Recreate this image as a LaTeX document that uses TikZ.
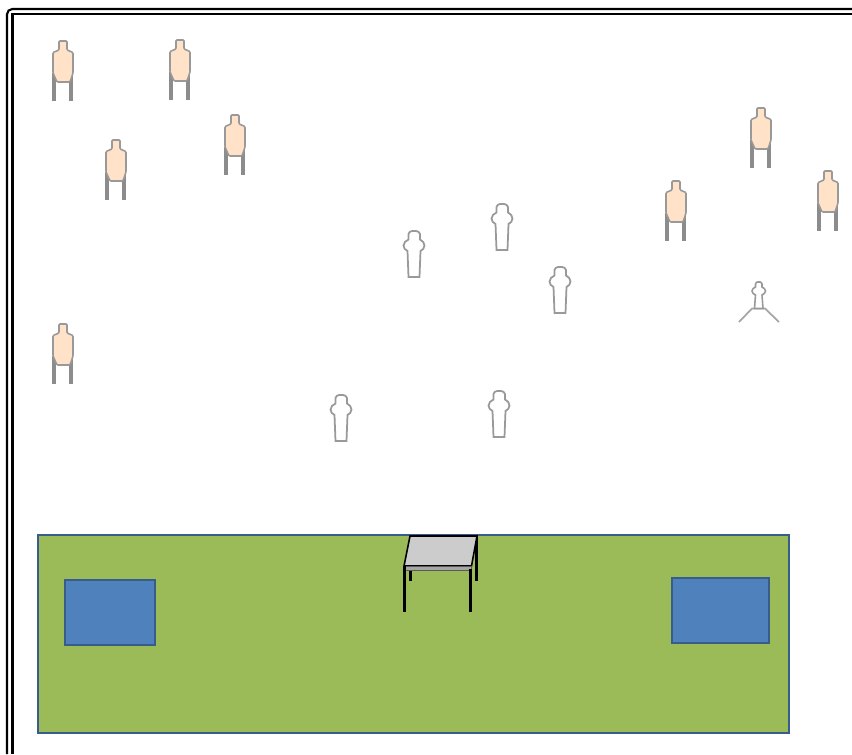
\documentclass[tikz,border=0pt]{standalone}
\definecolor{peau}{HTML}{FFE2C8}
\definecolor{herbe}{HTML}{9BBB59}
\definecolor{bleu}{HTML}{4F81BD}
\definecolor{bord}{HTML}{385D8A}
\tikzset{
	cadre/.style={black,line width=1.2pt},
	zone/.style={draw=bord,line width=1.4pt},
	pied/.style={black,line width=1.2pt},
	pics/cible/.style={code={
		\draw[gray!90,line width=1.8pt] (-9,32) to (-9,60);
		\draw[gray!90,line width=1.8pt] (8,32) to (8,60);
		\draw[gray!80,fill=peau,line width=.9pt,rounded corners=.6pt] (-4,0) -- (4,0) -- (4,9) -- (10,11.5) -- (10,32) -- (7,41) -- (-6,41) -- (-10,32) -- (-10,11.5) -- (-4,9) -- cycle;
	}},
	pics/silhouette/.style={code={
		\draw[gray!80,fill=white,line width=1pt] (-5.5,3) to[out=70,in=180] (-2,0) -- (2,0) to[out=0,in=110] (6,3) -- (6,8.5) to[out=-30,in=90] (10.5,14.5) to[out=-90,in=30] (6.5,20) -- (5.5,46) -- (-5.5,46) -- (-6.5,20) to[out=150,in=-90] (-10.5,14.5) to[out=90,in=210] (-5.5,8.5) -- cycle;
	}}
}
\begin{document}
\begin{tikzpicture}[x=.02cm,y=-.02cm]
	\useasboundingbox (0,0) rectangle (852,754);
	\draw[cadre,rounded corners=3pt] (7,754) to (7,9) to (852,9);
	\draw[cadre] (12.5,754) to (12.5,14) to (852,14);
	\foreach \x/\y in {63/41,180/40,116/140,235/115,63/324,761/108,828/171,676/181}{
		\pic at (\x,\y) {cible};}
	\foreach \x/\y in {414/231,502/204,560/267,341/395,499/391}{
		\pic at (\x,\y) {silhouette};}
	% petite cible sur pied
	\draw[gray!70,line width=1pt] (739,322) to (752,308.5) to (765,308.5) to (779,322);
	\draw[gray!80,fill=white,line width=.9pt] (755.5,284) to[out=70,in=180] (757.5,282) -- (760,282) to[out=0,in=110] (762,284) -- (762,287) to[out=-30,in=90] (765.5,291) to[out=-90,in=30] (762,295) -- (763,308.5) -- (754.5,308.5) -- (755.5,295) to[out=150,in=-90] (752,291) to[out=90,in=210] (755.5,287) -- cycle;
	% terrain
	\draw[zone,fill=herbe] (38,535) rectangle (789,733);
	\draw[zone,fill=bleu] (65,580) rectangle (155,645);
	\draw[zone,fill=bleu] (672,578) rectangle (769,643);
	% table
	\draw[pied] (410.5,568) to (410.5,581);
	\draw[pied] (476.5,536) to (476.5,581);
	\draw[black,fill=gray!40,line width=.9pt] (410,536) to (477,536) to (471.5,566) to (404,566) to cycle;
	\draw[gray!70!black,fill=gray!70,line width=.5pt] (404,566.5) rectangle (471.5,570);
	\draw[pied] (404.5,566) to (404.5,612);
	\draw[pied] (470.5,569) to (470.5,612);
\end{tikzpicture}
\end{document}
